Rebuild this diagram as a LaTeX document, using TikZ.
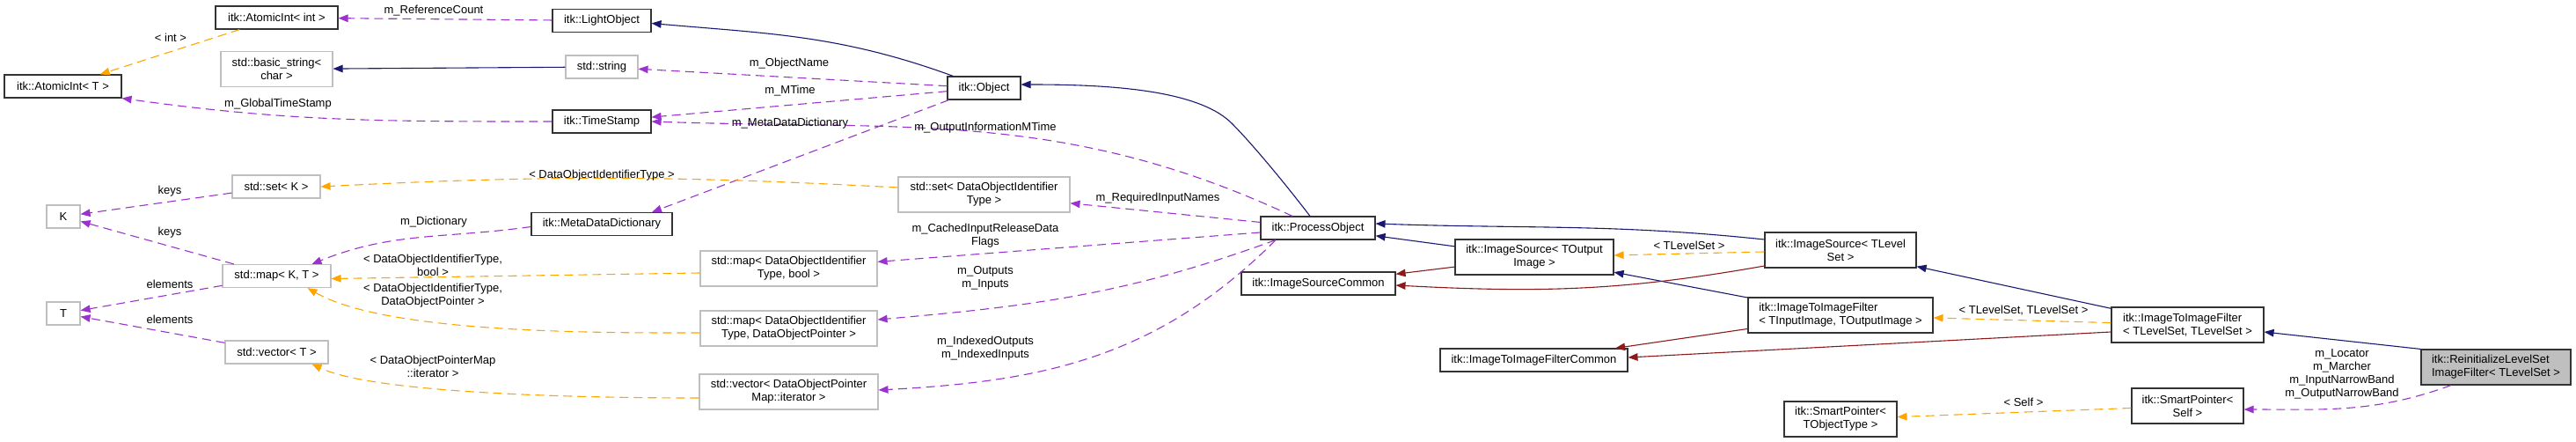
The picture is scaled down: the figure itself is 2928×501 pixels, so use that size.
\documentclass[tikz,border=0pt]{standalone}
\usepackage{fontspec}
\setmainfont{Liberation Sans}
\usepackage{xcolor}
\usetikzlibrary{arrows.meta}
\definecolor{inhblue}{HTML}{191970}
\definecolor{privred}{HTML}{8B1A1A}
\definecolor{usepurple}{HTML}{9A32CD}
\definecolor{tmplorange}{HTML}{FFA500}
\definecolor{boxgrey}{HTML}{BFBFBF}

\begin{document}
\begin{tikzpicture}[
        x=1pt, y=1pt,
        >={Triangle[length=11pt,width=8.5pt]},
        every node/.style={font=\fontsize{13}{14.8}\selectfont, inner sep=0pt},
        cls/.style={
            draw=black!80,
            fill=white,
            line width=1.1pt,
            minimum height=26pt,
            align=center
        },
        ext/.style={cls, draw=boxgrey},
        two/.style={minimum height=40pt},
        lbl/.style={align=center},
        inh/.style={->, draw=inhblue, line width=1.1pt},
        priv/.style={->, draw=privred, line width=1.1pt},
        use/.style={->, draw=usepurple, line width=1.1pt, dash pattern=on 10pt off 6pt},
        tmpl/.style={->, draw=tmplorange, line width=1.1pt, dash pattern=on 10pt off 6pt}
    ]
        \useasboundingbox (0,0) rectangle (2928,-501);

        % classes
        \node[cls, minimum width=139pt] (AIint) at (314.5,-20) {itk::AtomicInt< int >};
        \node[cls, minimum width=112pt] (LightObj) at (684,-23.5) {itk::LightObject};
        \node[ext, two, minimum width=127pt] (BasicStr) at (314.5,-78.5) {std::basic\_string<\\char >};
        \node[ext, minimum width=82pt] (StdStr) at (684,-76) {std::string};
        \node[cls, minimum width=133pt] (AIntT) at (71.5,-98) {itk::AtomicInt< T >};
        \node[cls, minimum width=112pt] (TStamp) at (684,-138) {itk::TimeStamp};
        \node[ext, minimum width=100pt] (SetK) at (314,-212) {std::set< K >};
        \node[ext, minimum width=38pt] (Kn) at (72,-246) {K};
        \node[cls, minimum width=160pt] (MDDict) at (684,-254.5) {itk::MetaDataDictionary};
        \node[ext, minimum width=123pt] (MapKT) at (314.5,-313.5) {std::map< K, T >};
        \node[ext, minimum width=38pt] (Tn) at (72,-356) {T};
        \node[ext, minimum width=117pt] (VecT) at (314.5,-400) {std::vector< T >};
        \node[cls, minimum width=83pt] (Obj) at (1118.5,-100) {itk::Object};
        \node[ext, two, minimum width=195pt] (SetDOI) at (1118.5,-221) {std::set< DataObjectIdentifier\\Type >};
        \node[ext, two, minimum width=201pt] (MapBool) at (896.5,-305) {std::map< DataObjectIdentifier\\Type, bool >};
        \node[ext, two, minimum width=201pt] (MapPtr) at (896.5,-373) {std::map< DataObjectIdentifier\\Type, DataObjectPointer >};
        \node[ext, two, minimum width=203pt] (VecIter) at (896.5,-445) {std::vector< DataObjectPointer\\Map::iterator >};
        \node[cls, minimum width=130pt] (ProcObj) at (1498,-259) {itk::ProcessObject};
        \node[cls, minimum width=175pt] (ISCommon) at (1498.5,-322) {itk::ImageSourceCommon};
        \node[cls, two, minimum width=180pt] (ISOut) at (1744,-292) {itk::ImageSource< TOutput\\Image >};
        \node[cls, two, minimum width=172pt] (ISLevel) at (2092,-284) {itk::ImageSource< TLevel\\Set >};
        \node[cls, minimum width=213pt] (ITIFCommon) at (1743.5,-409) {itk::ImageToImageFilterCommon};
        \node[cls, two, minimum width=210pt, align=left] (ITIFIn) at (2092,-358) {itk::ImageToImageFilter\\< TInputImage, TOutputImage >};
        \node[cls, two, minimum width=128pt] (SPObj) at (2092,-476) {itk::SmartPointer<\\TObjectType >};
        \node[cls, two, minimum width=173pt, align=left] (ITIFLevel) at (2486.5,-369) {itk::ImageToImageFilter\\< TLevelSet, TLevelSet >};
        \node[cls, two, minimum width=127pt] (SPSelf) at (2486.5,-461) {itk::SmartPointer<\\Self >};
        \node[cls, two, minimum width=170pt, align=left, fill=boxgrey] (Reinit) at (2837,-417) {itk::ReinitializeLevelSet\\ImageFilter< TLevelSet >};

        % inheritance
        \draw[inh] ([xshift=-35pt]Obj.north) to[out=160,in=-5] ([yshift=-3pt]LightObj.east);
        \draw[inh] (StdStr) -- (BasicStr);
        \draw[inh] ([xshift=-9pt]ProcObj.north) .. controls (1465,-214) and (1425,-165) .. (1400,-140)
            .. controls (1360,-100) and (1250,-96) .. ([yshift=4pt]Obj.east);
        \draw[inh] (ISOut) -- (ProcObj);
        \draw[inh] ([yshift=12pt]ISLevel.west) to[out=174,in=-2] ([yshift=5pt]ProcObj.east);
        \draw[inh] (ITIFIn) -- (ISOut);
        \draw[inh] (ITIFLevel) -- (ISLevel);
        \draw[inh] (Reinit.north west) -- ([yshift=-8pt]ITIFLevel.east);
        \draw[priv] (ISOut) -- (ISCommon);
        \draw[priv] ([yshift=-18pt]ISLevel.west) to[out=190,in=-3] ([yshift=-2pt]ISCommon.east);
        \draw[priv] (ITIFIn) -- (ITIFCommon);
        \draw[priv] ([yshift=-8pt]ITIFLevel.west) -- ([yshift=3pt]ITIFCommon.east);

        % members
        \draw[use] (LightObj) -- (AIint);
        \draw[use] (Obj) -- (StdStr);
        \draw[use] (Obj) -- (TStamp);
        \draw[use] ([xshift=-40pt]Obj.south) -- ([xshift=57pt]MDDict.north);
        \draw[use] ([xshift=-29pt]ProcObj.north) to[out=155,in=-2] (TStamp.east);
        \draw[use] (TStamp.west) to[out=180,in=-8] (AIntT.south east);
        \draw[use] (SetK) -- (Kn);
        \draw[use] (MapKT) -- (Kn);
        \draw[use] (MapKT) -- (Tn);
        \draw[use] (VecT) -- (Tn);
        \draw[use] ([yshift=-3pt]MDDict.west) to[out=188,in=22] ([xshift=40pt]MapKT.north);
        \draw[use] (ProcObj) -- (SetDOI);
        \draw[use] (ProcObj) -- (MapBool);
        \draw[use] ([xshift=-48pt]ProcObj.south) to[out=200,in=5] ([yshift=10pt]MapPtr.east);
        \draw[use] ([xshift=-48pt]ProcObj.south) to[out=225,in=3] ([yshift=2pt]VecIter.east);
        \draw[use] ([xshift=-51pt]Reinit.south) to[out=200,in=0] ([yshift=-4pt]SPSelf.east);

        % template instances
        \draw[tmpl] (AIint) -- (AIntT);
        \draw[tmpl] ([yshift=8pt]SetDOI.west) to[bend right=3] (SetK.east);
        \draw[tmpl] ([yshift=-5pt]MapBool.west) -- ([yshift=-3pt]MapKT.east);
        \draw[tmpl] ([yshift=-5pt]MapPtr.west) to[out=180,in=-30,looseness=0.6] ([xshift=35pt]MapKT.south);
        \draw[tmpl] ([yshift=-7pt]VecIter.west) to[out=180,in=-25,looseness=0.5] ([xshift=40pt]VecT.south);
        \draw[tmpl] (ISLevel) -- (ISOut);
        \draw[tmpl] (ITIFLevel) -- (ITIFIn);
        \draw[tmpl] (SPSelf) -- (SPObj);

        % labels
        \node[lbl] (lRefCount) at (493,-12) {m\_ReferenceCount};
        \node[lbl] (lInt) at (194,-43) {< int >};
        \node[lbl] (lGlobal) at (316,-118) {m\_GlobalTimeStamp};
        \node[lbl] (lObjName) at (897,-72) {m\_ObjectName};
        \node[lbl] (lMTime) at (898,-103) {m\_MTime};
        \node[lbl] (lMetaDict) at (898,-140) {m\_MetaDataDictionary};
        \node[lbl] (lOutInfo) at (1120,-145) {m\_OutputInformationMTime};
        \node[lbl] (lDOIType) at (684,-199) {< DataObjectIdentifierType >};
        \node[lbl] (lKeysA) at (193,-217) {keys};
        \node[lbl] (lKeysB) at (193,-264) {keys};
        \node[lbl] (lDict) at (493,-252) {m\_Dictionary};
        \node[lbl] (lElemA) at (193,-323) {elements};
        \node[lbl] (lElemB) at (193,-363) {elements};
        \node[lbl] (lBool) at (492,-301) {< DataObjectIdentifierType,\\bool >};
        \node[lbl] (lPtr) at (492,-336) {< DataObjectIdentifierType,\\DataObjectPointer >};
        \node[lbl] (lIter) at (492,-416) {< DataObjectPointerMap\\::iterator >};
        \node[lbl] (lReqNames) at (1316,-225) {m\_RequiredInputNames};
        \node[lbl] (lCached) at (1120,-268) {m\_CachedInputReleaseData\\Flags};
        \node[lbl] (lInOut) at (1120,-316) {m\_Outputs\\m\_Inputs};
        \node[lbl] (lIndexed) at (1120,-396) {m\_IndexedOutputs\\m\_IndexedInputs};
        \node[lbl] (lLevel) at (1920,-279) {< TLevelSet >};
        \node[lbl] (lLevelTwo) at (2300,-353) {< TLevelSet, TLevelSet >};
        \node[lbl] (lSelf) at (2300,-457) {< Self >};
        \node[lbl] (lMembers) at (2662,-425) {m\_Locator\\m\_Marcher\\m\_InputNarrowBand\\m\_OutputNarrowBand};
    \end{tikzpicture}
\end{document}
